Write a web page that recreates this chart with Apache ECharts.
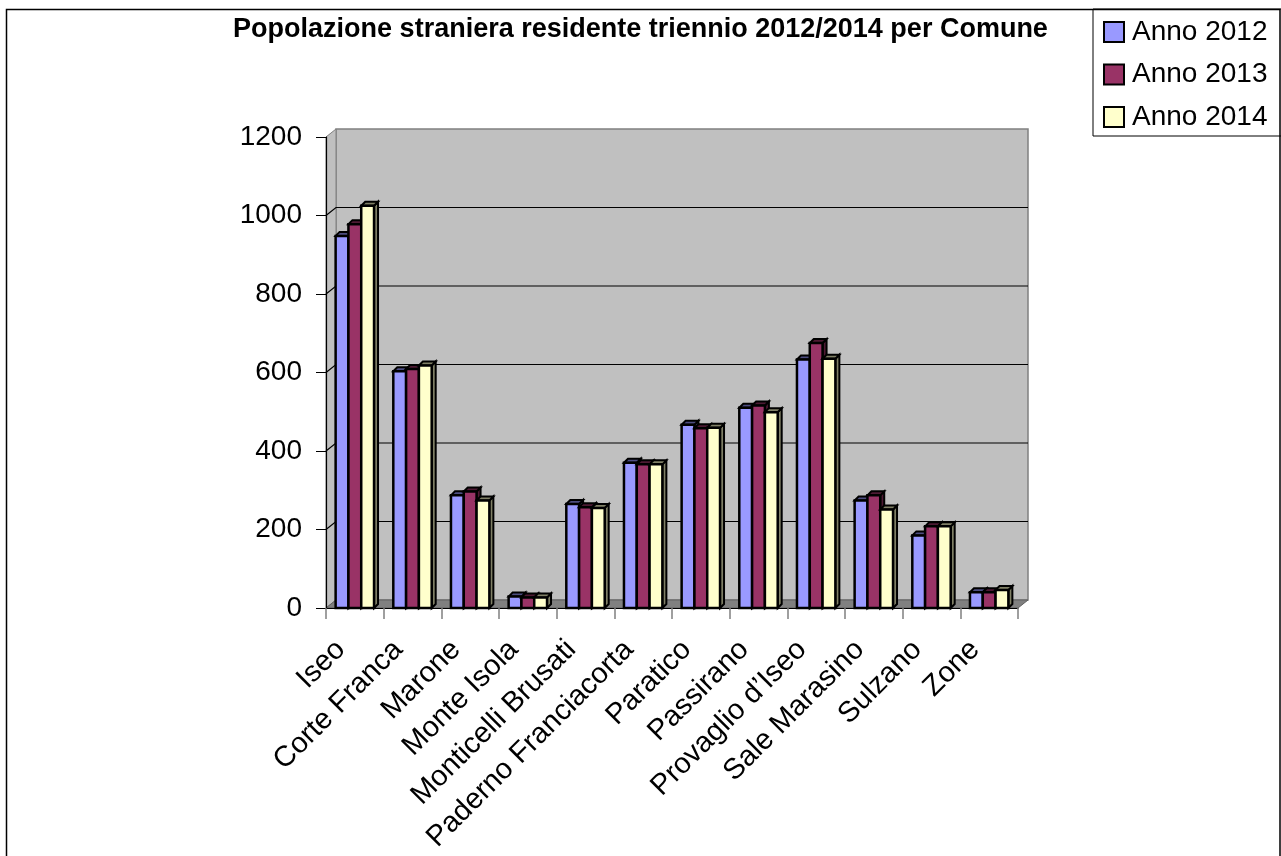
<!DOCTYPE html>
<html><head><meta charset="utf-8">
<script src="https://cdn.jsdelivr.net/npm/echarts@6/dist/echarts.min.js"></script>
<style>html,body{margin:0;padding:0;background:#fff}#c{width:1281px;height:856px}</style>
</head><body><div id="c"></div>
<script>
const categories = ['Iseo','Corte Franca','Marone','Monte Isola','Monticelli Brusati','Paderno Franciacorta','Paratico','Passirano','Provaglio d\u2019Iseo','Sale Marasino','Sulzano','Zone'];
const anno2012 = [948, 603, 287, 29, 265, 370, 467, 510, 633, 274, 185, 40];
const anno2013 = [978, 609, 297, 27, 257, 366, 458, 516, 675, 287, 208, 40];
const anno2014 = [1025, 618, 274, 27, 255, 366, 459, 499, 635, 251, 208, 46];
const seriesNames = ['Anno 2012','Anno 2013','Anno 2014'];
const yTicks = [0, 200, 400, 600, 800, 1000, 1200];

const DX = 10, DY = -8;   // depth of walls
const BDX = 4, BDY = -4;  // depth of bars
const frontColors = ['#9999FF', '#993366', '#FFFFCC'];
const darkColors = ['#4D4D80', '#4D1A33', '#808066'];
const FONT = '"Liberation Sans", Arial, sans-serif';

function wallRender(params, api) {
  const cs = params.coordSys;
  const x0 = cs.x, y0 = cs.y, x1 = cs.x + cs.width, y1 = cs.y + cs.height;
  const ch = [];
  ch.push({type: 'rect', shape: {x: x0 + DX, y: y0 + DY, width: x1 - x0, height: y1 - y0},
    style: {fill: '#C0C0C0', stroke: '#808080', lineWidth: 1.5}});
  ch.push({type: 'polygon', shape: {points: [[x0, y0], [x0 + DX, y0 + DY], [x0 + DX, y1 + DY], [x0, y1]]},
    style: {fill: '#C0C0C0', stroke: '#808080', lineWidth: 1}});
  ch.push({type: 'polygon', shape: {points: [[x0, y1], [x0 + DX, y1 + DY], [x1 + DX, y1 + DY], [x1, y1]]},
    style: {fill: '#808080', stroke: '#606060', lineWidth: 1}});
  yTicks.forEach(v => {
    if (v === 0 || v === 1200) return;
    const y = api.coord([0, v])[1];
    ch.push({type: 'polyline', shape: {points: [[x0, y], [x0 + DX, y + DY], [x1 + DX, y + DY]]},
      style: {stroke: '#000', lineWidth: 1.2, fill: null}});
  });
  return {type: 'group', children: ch};
}

function barRender(si) {
  return function (params, api) {
    const cat = api.value(0), val = api.value(1);
    const top = api.coord([cat, val]), base = api.coord([cat, 0]);
    const band = api.size([1, 0])[0];
    const bw = band * 0.222;
    const x = top[0] - 1.5 * bw + si * bw;
    const yT = top[1], yB = base[1];
    return {type: 'group', children: [
      {type: 'polygon', shape: {points: [[x + bw, yT], [x + bw + BDX, yT + BDY], [x + bw + BDX, yB + BDY], [x + bw, yB]]},
        style: {fill: darkColors[si], stroke: '#000', lineWidth: 2}},
      {type: 'polygon', shape: {points: [[x, yT], [x + BDX, yT + BDY], [x + bw + BDX, yT + BDY], [x + bw, yT]]},
        style: {fill: darkColors[si], stroke: '#000', lineWidth: 2}},
      {type: 'rect', shape: {x: x, y: yT, width: bw, height: yB - yT},
        style: {fill: frontColors[si], stroke: '#000', lineWidth: 2.5}}
    ]};
  };
}

const values = [anno2012, anno2013, anno2014];
const chart = echarts.init(document.getElementById('c'), null, {renderer: 'canvas'});
const series = [{
  type: 'custom', name: 'walls', renderItem: wallRender, data: [[0, 0]], z: 1,
  encode: {x: 0, y: 1}, silent: true, legendHoverLink: false
}];
values.forEach((arr, si) => {
  series.push({
    type: 'custom', name: seriesNames[si], renderItem: barRender(si), z: 2 + si,
    itemStyle: {color: frontColors[si], borderColor: '#000', borderWidth: 1.5},
    encode: {x: 0, y: 1},
    data: categories.map((c, i) => [i, arr[i]])
  });
});

chart.setOption({
  animation: false,
  backgroundColor: '#fff',
  title: {
    text: 'Popolazione straniera residente triennio 2012/2014 per Comune',
    left: 'center', top: 16, padding: 0,
    textStyle: {fontFamily: FONT, fontSize: 27, fontWeight: 'bold', color: '#000'}
  },
  legend: {
    data: seriesNames, orient: 'vertical', left: 1093, top: 9,
    padding: [9, 14, 5, 10], itemWidth: 20, itemHeight: 20, itemGap: 14.5,
    icon: 'rect', borderColor: '#000', borderWidth: 1, backgroundColor: '#fff',
    itemStyle: {borderColor: '#000', borderWidth: 2},
    textStyle: {fontFamily: FONT, fontSize: 28, color: '#000', lineHeight: 28, padding: [0, 0, 0, 3]}
  },
  graphic: [{
    type: 'rect', z: 100, silent: true,
    shape: {x: 6.5, y: 9.5, width: 1273.5, height: 900},
    style: {fill: null, stroke: '#000', lineWidth: 1.5}
  }],
  grid: {left: 326, top: 137, right: 263, bottom: 248, containLabel: false},
  xAxis: {
    type: 'category', data: categories, boundaryGap: true, z: 10,
    axisLine: {show: true, lineStyle: {color: '#000', width: 1.2}},
    axisTick: {show: true, length: 11, interval: 0, lineStyle: {color: '#808080', width: 1.5}},
    axisLabel: {interval: 0, rotate: 45, margin: 23, padding: [0, 20, 0, 0],
      fontFamily: FONT, fontSize: 29, color: '#000'},
    splitLine: {show: false}
  },
  yAxis: {
    type: 'value', min: 0, max: 1200, interval: 200, z: 10,
    axisLine: {show: true, lineStyle: {color: '#000', width: 1.2}},
    axisTick: {show: true, length: 10, lineStyle: {color: '#000', width: 1}},
    axisLabel: {margin: 24, fontFamily: FONT, fontSize: 28, color: '#000',
      formatter: function (v) { return String(v); }},
    splitLine: {show: false}
  },
  series: series
});
</script>
</body></html>
